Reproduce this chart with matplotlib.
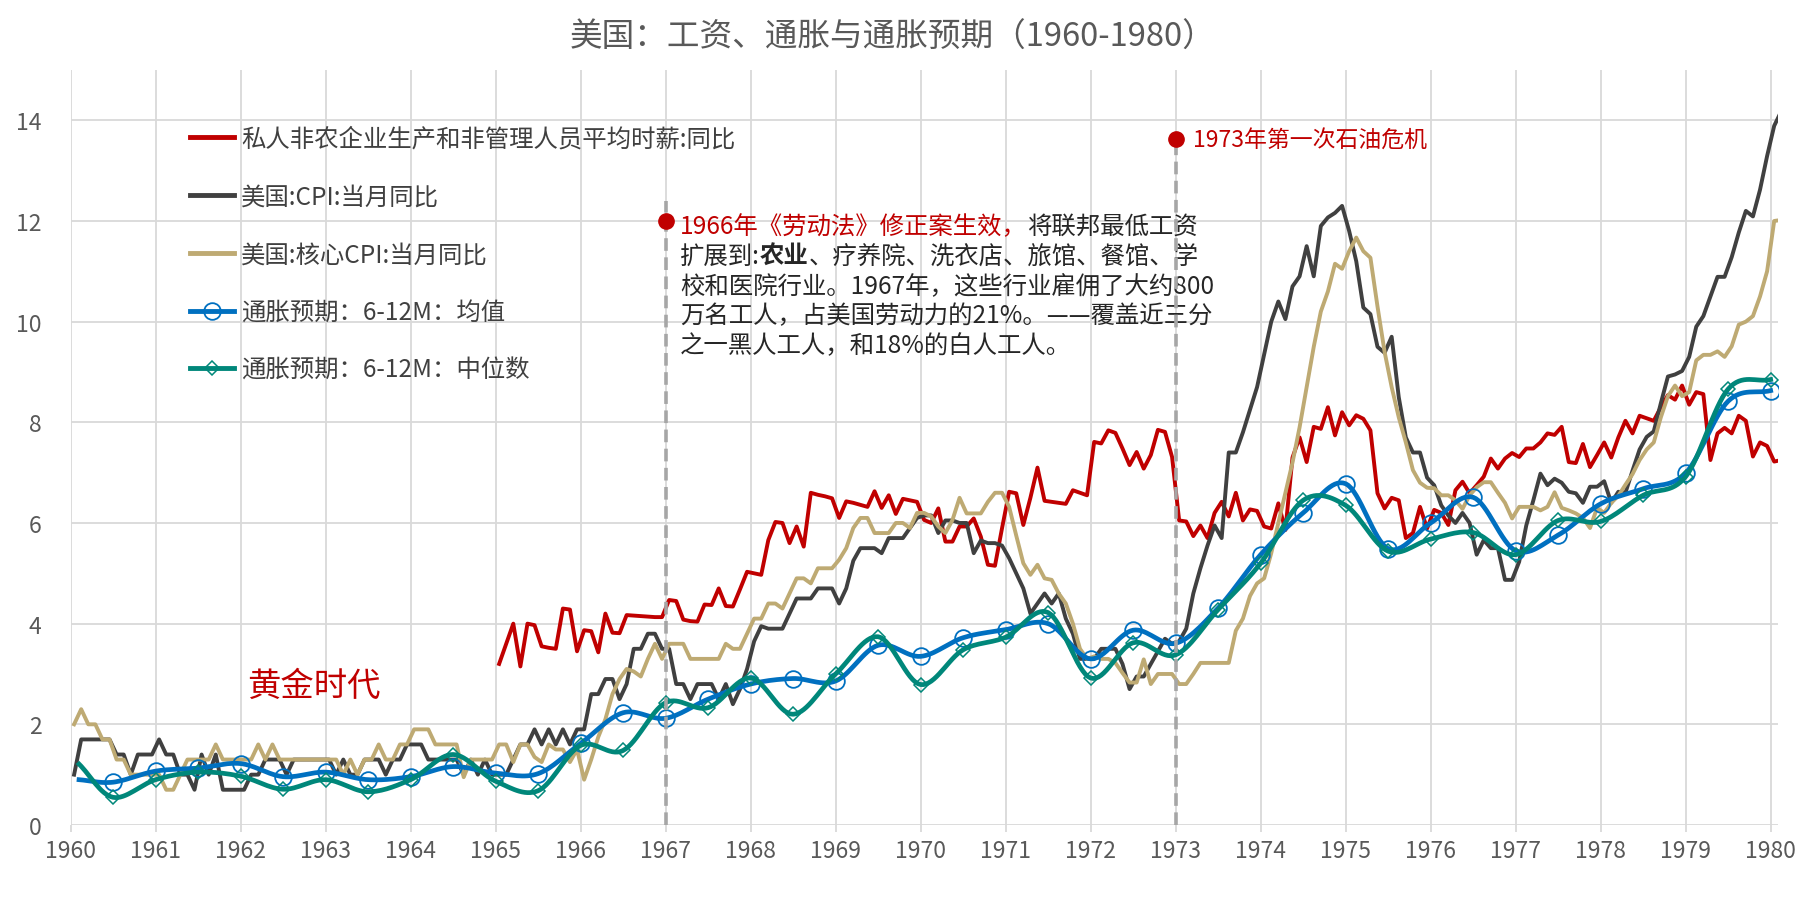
import numpy as np
import matplotlib
matplotlib.use("Agg")
import matplotlib.pyplot as plt
from matplotlib.lines import Line2D
from matplotlib.offsetbox import TextArea, HPacker, AnnotationBbox

plt.rcParams['font.family'] = ['Noto Sans CJK SC', 'DejaVu Sans']
plt.rcParams['axes.unicode_minus'] = False

# CPI YoY (%), monthly, Jan 1960 .. Feb 1980
cpi = [
    1.0, 1.7, 1.7, 1.7, 1.7, 1.7, 1.4, 1.4, 1.0, 1.4, 1.4, 1.4,
    1.7, 1.4, 1.4, 1.0, 1.0, 0.7, 1.4, 1.0, 1.4, 0.7, 0.7, 0.7,
    0.7, 1.0, 1.0, 1.3, 1.3, 1.3, 1.0, 1.3, 1.3, 1.3, 1.3, 1.3,
    1.3, 1.0, 1.3, 1.0, 1.0, 1.3, 1.3, 1.3, 1.0, 1.3, 1.3, 1.6,
    1.6, 1.6, 1.3, 1.3, 1.3, 1.3, 1.3, 1.0, 1.3, 1.0, 1.3, 1.0,
    1.0, 1.0, 1.3, 1.6, 1.6, 1.9, 1.6, 1.9, 1.6, 1.9, 1.6, 1.9,
    1.9, 2.6, 2.6, 2.9, 2.9, 2.5, 2.8, 3.5, 3.5, 3.8, 3.8, 3.5,
    3.5, 2.8, 2.8, 2.5, 2.8, 2.8, 2.8, 2.5, 2.8, 2.4, 2.7, 3.1,
    3.65, 3.95, 3.9, 3.9, 3.9, 4.2, 4.5, 4.5, 4.5, 4.7, 4.7, 4.7,
    4.4, 4.7, 5.25, 5.5, 5.5, 5.5, 5.4, 5.7, 5.7, 5.7, 5.9, 6.1,
    6.15, 6.15, 5.8, 6.05, 6.05, 6.0, 6.0, 5.4, 5.65, 5.6, 5.6, 5.55,
    5.3, 5.0, 4.7, 4.2, 4.4, 4.6, 4.4, 4.6, 4.1, 3.8, 3.3, 3.3,
    3.3, 3.5, 3.5, 3.5, 3.2, 2.7, 2.95, 2.95, 3.2, 3.45, 3.7, 3.6,
    3.65, 3.9, 4.6, 5.1, 5.55, 5.95, 5.7, 7.4, 7.4, 7.8, 8.25, 8.7,
    9.35, 10.0, 10.4, 10.05, 10.7, 10.9, 11.5, 10.9, 11.9, 12.07, 12.16, 12.3,
    11.8, 11.2, 10.28, 10.15, 9.5, 9.38, 9.7, 8.5, 7.7, 7.4, 7.4, 6.9,
    6.75, 6.35, 6.15, 6.0, 6.2, 6.0, 5.37, 5.66, 5.5, 5.5, 4.87, 4.87,
    5.23, 5.95, 6.45, 6.98, 6.75, 6.88, 6.8, 6.62, 6.59, 6.4, 6.72, 6.72,
    6.83, 6.4, 6.62, 6.6, 7.04, 7.46, 7.71, 7.82, 8.38, 8.91, 8.95, 9.02,
    9.3, 9.9, 10.11, 10.5, 10.89, 10.89, 11.28, 11.77, 12.2, 12.09, 12.62, 13.29,
    13.89, 14.18,
]

# core CPI YoY (%), monthly, Jan 1960 .. Feb 1980
core_cpi = [
    2.0, 2.3, 2.0, 2.0, 1.7, 1.7, 1.3, 1.3, 1.0, 1.0, 1.0, 1.0,
    1.0, 0.7, 0.7, 1.0, 1.3, 1.3, 1.3, 1.3, 1.6, 1.3, 1.3, 1.3,
    1.3, 1.3, 1.6, 1.3, 1.6, 1.3, 1.3, 1.3, 1.3, 1.3, 1.3, 1.3,
    1.3, 1.3, 1.0, 1.3, 1.0, 1.3, 1.3, 1.6, 1.3, 1.3, 1.6, 1.6,
    1.9, 1.9, 1.9, 1.6, 1.6, 1.6, 1.6, 0.95, 1.3, 1.3, 1.3, 1.3,
    1.6, 1.6, 1.25, 1.6, 1.6, 1.35, 1.25, 1.6, 1.5, 1.5, 1.25, 1.5,
    0.9, 1.3, 1.75, 2.1, 2.6, 2.9, 3.1, 3.05, 2.95, 3.3, 3.6, 3.3,
    3.6, 3.6, 3.6, 3.3, 3.3, 3.3, 3.3, 3.3, 3.6, 3.5, 3.5, 3.8,
    4.1, 4.1, 4.4, 4.4, 4.3, 4.6, 4.9, 4.9, 4.8, 5.1, 5.1, 5.1,
    5.27, 5.5, 5.9, 6.1, 6.1, 5.8, 5.8, 5.8, 6.0, 6.0, 5.9, 6.2,
    6.2, 6.13, 5.93, 5.8, 6.06, 6.5, 6.19, 6.19, 6.19, 6.42, 6.6, 6.6,
    6.32, 5.75, 5.2, 4.97, 5.17, 4.9, 4.87, 4.6, 4.4, 4.0, 3.5, 3.3,
    3.35, 3.3, 3.3, 3.22, 3.02, 2.83, 2.83, 3.29, 2.8, 3.0, 3.0, 3.0,
    2.8, 2.8, 3.0, 3.22, 3.22, 3.22, 3.22, 3.22, 3.86, 4.1, 4.55, 4.8,
    4.9, 5.4, 6.0, 6.6, 7.2, 7.9, 8.7, 9.5, 10.2, 10.6, 11.15, 11.05,
    11.4, 11.67, 11.4, 11.27, 10.3, 9.4, 8.7, 8.1, 7.6, 7.05, 6.8, 6.7,
    6.69, 6.55, 6.55, 6.45, 6.28, 6.55, 6.71, 6.81, 6.81, 6.6, 6.4, 6.09,
    6.32, 6.32, 6.32, 6.25, 6.32, 6.61, 6.3, 6.25, 6.19, 6.1, 5.9, 6.3,
    6.2, 6.4, 6.54, 6.76, 6.97, 7.25, 7.46, 7.6, 8.1, 8.52, 8.73, 8.52,
    8.6, 9.23, 9.34, 9.34, 9.41, 9.3, 9.51, 9.94, 10.0, 10.11, 10.5, 11.0,
    12.0, 12.02,
]

# average hourly earnings YoY (%), monthly, Jan 1965 .. Feb 1980
wage = [
    3.2, 3.6, 4.0, 3.15, 4.0, 3.97, 3.55, 3.52, 3.5, 4.3, 4.28, 3.45,
    3.87, 3.85, 3.43, 4.2, 3.82, 3.81, 4.17, 4.16, 4.15, 4.14, 4.13, 4.13,
    4.47, 4.45, 4.08, 4.05, 4.04, 4.38, 4.37, 4.7, 4.35, 4.34, 4.68, 5.03,
    5.0, 4.97, 5.66, 6.02, 6.0, 5.6, 5.93, 5.53, 6.6, 6.56, 6.53, 6.49,
    6.1, 6.43, 6.4, 6.36, 6.32, 6.63, 6.3, 6.55, 6.18, 6.48, 6.45, 6.42,
    6.06, 6.0, 6.29, 5.63, 5.63, 5.93, 5.93, 6.09, 5.73, 5.17, 5.15, 5.9,
    6.62, 6.59, 5.96, 6.5, 7.1, 6.44, 6.42, 6.4, 6.38, 6.65, 6.6, 6.55,
    7.61, 7.58, 7.84, 7.79, 7.48, 7.15, 7.41, 7.08, 7.35, 7.85, 7.81, 7.31,
    6.05, 6.03, 5.74, 5.95, 5.7, 6.2, 6.42, 6.13, 6.6, 6.05, 6.27, 6.24,
    5.93, 5.89, 6.39, 5.86, 7.3, 7.7, 7.21, 7.91, 7.87, 8.3, 7.74, 8.2,
    7.94, 8.14, 8.07, 7.84, 6.59, 6.29, 6.5, 6.45, 5.7, 5.8, 6.32, 5.89,
    6.26, 6.2, 5.96, 6.65, 6.82, 6.59, 6.75, 6.92, 7.28, 7.08, 7.28, 7.39,
    7.31, 7.48, 7.48, 7.6, 7.78, 7.75, 7.91, 7.21, 7.19, 7.57, 7.11, 7.35,
    7.6, 7.3, 7.7, 8.03, 7.78, 8.13, 8.08, 8.03, 8.3, 8.54, 8.45, 8.73,
    8.35, 8.6, 8.56, 7.25, 7.78, 7.89, 7.78, 8.13, 8.03, 7.32, 7.6, 7.53,
    7.22, 7.25,
]

# 6-12 month inflation expectations, half-yearly survey
exp_dates = [1960.1] + [1960.5 + 0.5 * i for i in range(40)]
exp_mean = [
    0.9, 0.85, 1.07, 1.13, 1.22, 0.96, 1.05, 0.9, 0.96, 1.16, 1.03, 1.02,
    1.62, 2.23, 2.12, 2.5, 2.8, 2.91, 2.86, 3.57, 3.35, 3.72, 3.88, 4.0,
    3.3, 3.87, 3.61, 4.31, 5.37, 6.2, 6.78, 5.49, 6.0, 6.51, 5.45, 5.76,
    6.38, 6.68, 6.99, 8.42, 8.63,
]
exp_median = [
    1.21, 0.55, 0.9, 1.05, 0.97, 0.71, 0.9, 0.66, 0.9, 1.4, 0.87, 0.68,
    1.58, 1.48, 2.43, 2.33, 2.92, 2.2, 3.0, 3.74, 2.79, 3.48, 3.73, 4.22,
    2.92, 3.62, 3.38, 4.28, 5.2, 6.45, 6.35, 5.44, 5.68, 5.81, 5.37, 6.05,
    6.03, 6.55, 6.92, 8.66, 8.85,
]

labels = [
    '私人非农企业生产和非管理人员平均时薪:同比',
    '美国:CPI:当月同比',
    '美国:核心CPI:当月同比',
    '通胀预期：6-12M：均值',
    '通胀预期：6-12M：中位数',
]

event_years = [1967, 1973]
event_levels = [12.0, 13.62]
event_tops = [12.4, 13.62]

RED = '#C00000'
DARK = '#404040'
TAN = '#BEAA73'
BLUE = '#0070C0'
TEAL = '#00877A'
TXT = '#262626'


def smooth(xs, ys, n=16):
    # Catmull-Rom, like Excel's "smoothed line"
    x = np.asarray(xs, float)
    y = np.asarray(ys, float)
    px = np.concatenate([[2 * x[0] - x[1]], x, [2 * x[-1] - x[-2]]])
    py = np.concatenate([[2 * y[0] - y[1]], y, [2 * y[-1] - y[-2]]])
    t = np.linspace(0, 1, n, endpoint=False)
    ox, oy = [], []
    for i in range(1, len(px) - 2):
        for out, p in ((ox, px), (oy, py)):
            p0, p1, p2, p3 = p[i - 1:i + 3]
            out.append(0.5 * (2 * p1 + (p2 - p0) * t
                              + (2 * p0 - 5 * p1 + 4 * p2 - p3) * t ** 2
                              + (3 * p1 - p0 - 3 * p2 + p3) * t ** 3))
    ox.append([x[-1]])
    oy.append([y[-1]])
    return np.concatenate(ox), np.concatenate(oy)


cpi_x = 1960 + (np.arange(len(cpi)) + 0.5) / 12
wage_x = 1965 + (np.arange(len(wage)) + 0.5) / 12

fig = plt.figure(figsize=(18, 9.04), dpi=100)
ax = fig.add_axes([0.0392, 0.0863, 0.9486, 0.8352])

ax.plot(wage_x, wage, color=RED, lw=2.8, zorder=3)
ax.plot(cpi_x, cpi, color=DARK, lw=2.8, zorder=3)
ax.plot(cpi_x, core_cpi, color=TAN, lw=2.8, zorder=3)

sx, sy = smooth(exp_dates, exp_mean)
ax.plot(sx, sy, color=BLUE, lw=3.4, zorder=4)
ax.plot(exp_dates[1:], exp_mean[1:], ls='none', marker='o', ms=12,
        mfc='none', mec=BLUE, mew=1.3, zorder=4)
sx, sy = smooth(exp_dates, exp_median)
ax.plot(sx, sy, color=TEAL, lw=3.4, zorder=5)
ax.plot(exp_dates[1:], exp_median[1:], ls='none', marker='D', ms=7,
        mfc='none', mec=TEAL, mew=1.1, zorder=5)

# event markers
ax.vlines(event_years, 0, event_tops, colors='#A6A6A6', lw=2.6,
          linestyles=(0, (3.5, 1.8)), zorder=6)
ax.plot(event_years, event_levels, ls='none', marker='o', ms=11,
        color=RED, zorder=7)

ax.text(1973.2, 13.6, '1973年第一次石油危机', color=RED, fontsize=16.5,
        va='center', ha='left')
ax.text(1962.08, 2.77, '黄金时代', color=RED, fontsize=24,
        va='center', ha='left')

note = [
    [('1966年《劳动法》修正案生效，', RED, 'normal'), ('将联邦最低工资', TXT, 'normal')],
    [('扩展到:', TXT, 'normal'), ('农业', TXT, 'bold'),
     ('、疗养院、洗衣店、旅馆、餐馆、学', TXT, 'normal')],
    [('校和医院行业。1967年，这些行业雇佣了大约800', TXT, 'normal')],
    [('万名工人，占美国劳动力的21%。——覆盖近三分', TXT, 'normal')],
    [('之一黑人工人，和18%的白人工人。', TXT, 'normal')],
]
note_y = [11.9, 11.31, 10.72, 10.13, 9.54]
for parts, yv in zip(note, note_y):
    kids = [TextArea(s, textprops=dict(color=c, fontsize=17.6, fontweight=w))
            for s, c, w in parts]
    box = HPacker(children=kids, align='baseline', pad=0, sep=0)
    ab = AnnotationBbox(box, (1967.17, yv), xycoords='data',
                        box_alignment=(0, 0.5), frameon=False, pad=0)
    ax.add_artist(ab)

# axes styling
ax.set_xlim(1960, 1980.087)
ax.set_ylim(0, 15)
ax.set_xticks(range(1960, 1981))
ax.set_yticks(range(0, 15, 2))
for s in ax.spines.values():
    s.set_visible(False)
ax.grid(True, color='#D9D9D9', lw=1.3)
ax.set_axisbelow(True)
ax.tick_params(axis='x', length=5, width=1.3, color='#D9D9D9', pad=5,
               labelsize=16.5, labelcolor='#595959')
ax.tick_params(axis='y', length=0, pad=21, labelsize=16.5,
               labelcolor='#595959')

handles = [
    Line2D([], [], color=RED, lw=3.5),
    Line2D([], [], color=DARK, lw=3.5),
    Line2D([], [], color=TAN, lw=3.5),
    Line2D([], [], color=BLUE, lw=3.5, marker='o', ms=12, mfc='none',
           mec=BLUE, mew=1.3),
    Line2D([], [], color=TEAL, lw=3.5, marker='D', ms=7, mfc='none',
           mec=TEAL, mew=1.1),
]
ax.legend(handles, labels, loc='upper left', bbox_to_anchor=(0.0699, 0.926),
          frameon=False, fontsize=17.6, borderpad=0, borderaxespad=0,
          handlelength=1.8, handletextpad=0.3, labelspacing=1.3,
          labelcolor='#404040')

fig.text(0.496, 0.958, '美国：工资、通胀与通胀预期（1960-1980）',
         ha='center', va='center', fontsize=23.5, color='#595959')

fig.savefig('out.png', dpi=100)
